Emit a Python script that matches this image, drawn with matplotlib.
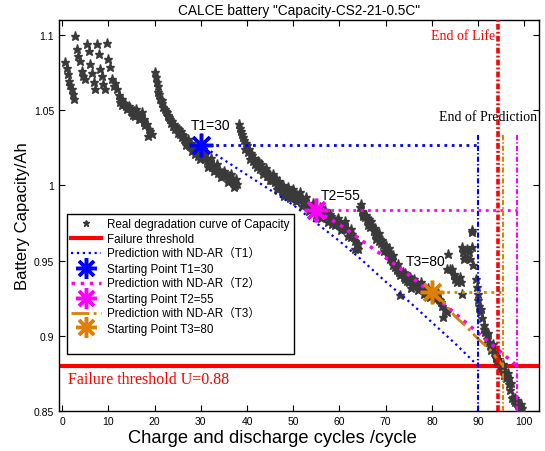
import matplotlib
matplotlib.use("Agg")
import matplotlib.pyplot as plt
from matplotlib.lines import Line2D
from matplotlib.ticker import FuncFormatter, MultipleLocator

# ---------------- data ----------------
seg_a = [(0.65,1.082),(1.0,1.078),(1.15,1.074),(1.4,1.0697),(1.7,1.067),(2.1,1.064),(2.45,1.0576),(2.3,1.061),
         (2.8,1.0996),(3.2,1.0908),(3.5,1.086),(3.9,1.083),(4.3,1.076),(4.6,1.073),(5.0,1.071),(5.3,1.094),
         (5.7,1.0896),(6.1,1.081),(6.4,1.075),(6.8,1.0687),(7.1,1.064),(7.5,1.094),(7.9,1.0875),(8.2,1.0776),
         (8.6,1.073),(8.9,1.0675),(9.3,1.064),(9.7,1.095),(10.0,1.084),(10.4,1.0786),(10.8,1.071),(11.1,1.0664),
         (11.5,1.068),(11.8,1.064),(12.2,1.0598),(12.6,1.0576),(12.9,1.0576),(13.3,1.055),(13.6,1.0543),(14.0,1.051),
         (14.4,1.053),(14.8,1.0498),(15.1,1.0487),(15.5,1.0495),(15.8,1.046),(16.2,1.0487),(16.6,1.044),(16.9,1.0443),
         (17.3,1.0487),(17.6,1.042),(18.0,1.04),(18.3,1.041),(18.7,1.0377),(19.0,1.036),(19.4,1.0343),(18.5,1.0328),
         (12.4,1.0555),(13.0,1.0535),(13.8,1.0525),(14.6,1.0515),(15.3,1.0465),(16.0,1.0505),(17.0,1.0465),(17.8,1.0445)]
seg_b = [(20.1,1.0753),(20.3,1.072),(20.5,1.0687),(20.8,1.062),(21.2,1.0576),(21.5,1.0565),(21.9,1.052),(22.2,1.051),
         (22.6,1.0487),(23.0,1.047),(23.4,1.0443),(23.8,1.043),(24.1,1.041),(24.5,1.0377),(24.9,1.038),(25.2,1.0376),
         (25.5,1.0343),(25.9,1.0343),(26.3,1.031),(26.6,1.03),(27.0,1.0288),(27.4,1.0266),(27.7,1.026),(28.0,1.0232),
         (28.4,1.0244),(28.8,1.021),(29.1,1.0225),(29.5,1.024),(29.9,1.0177),(30.3,1.021),(30.6,1.019),(31.0,1.0177),
         (31.3,1.016),(31.7,1.0155),(32.0,1.0145),(32.4,1.0125),(32.7,1.0133),(33.1,1.011),(33.5,1.0105),(33.8,1.0085),
         (34.2,1.0089),(34.6,1.008),(34.9,1.0062),(35.3,1.0075),(35.6,1.0066),(36.0,1.004),(36.3,1.005),(36.7,1.003),
         (37.1,1.0022),(37.4,1.0005),(37.8,1.001),(21.0,1.061),(22.8,1.046),(24.0,1.0395),(26.0,1.032),(28.0,1.0265),
         (30.0,1.0235),(32.0,1.0165),(34.0,1.0105),(36.0,1.0065),
         (20.7,1.066),(21.7,1.055),(22.4,1.0495),(23.2,1.0455),(23.6,1.0415),(24.3,1.0395),(25.0,1.035),(25.7,1.0365),
         (26.1,1.0335),(26.8,1.027),(27.2,1.031),(27.9,1.0285),(28.6,1.0255),(29.3,1.0195),(29.7,1.0265),(30.8,1.022),
         (31.5,1.0125),(32.2,1.0185),(32.9,1.0095),(33.6,1.014),(34.4,1.0055),(35.1,1.0095),(35.8,1.0025),(36.5,1.0075),
         (37.2,0.999),(37.6,1.004)]
seg_c = [(38.2,1.041),(38.5,1.038),(38.9,1.0343),(39.3,1.03),(39.6,1.0244),(40.0,1.0266),(40.3,1.022),(40.7,1.0177),
         (41.1,1.02),(41.4,1.016),(41.8,1.0145),(42.1,1.0122),(42.5,1.0155),(42.9,1.011),(43.2,1.0125),(43.6,1.0089),
         (44.0,1.009),(44.3,1.0065),(44.7,1.0075),(45.0,1.0066),(45.4,1.0035),(45.7,1.0033),(46.1,1.002),(46.5,0.9978),
         (46.8,1.001),(47.2,0.9985),(47.5,0.9965),(47.9,0.9945),(48.3,0.9975),(48.6,0.9955),(49.0,0.9945),(49.4,0.9956),
         (49.7,0.9925),(50.1,0.994),(50.4,0.9945),(50.8,0.9934),(51.2,0.9905),(51.5,0.992),(51.9,0.9912),(52.2,0.989),
         (52.6,0.9895),(53.0,0.9867),(53.3,0.9875),(53.7,0.985),(54.1,0.9855),(54.4,0.983),(54.8,0.984),(55.2,0.9835),
         (55.5,0.982),(55.9,0.9825),(56.3,0.981),(56.6,0.9805),(57.0,0.979),(57.3,0.9812),(57.7,0.978),(58.0,0.9812),
         (58.4,0.9775),(58.8,0.977),(59.1,0.976),(59.5,0.9768),(59.9,0.974),(60.2,0.975),(60.6,0.9735),(60.9,0.9746),
         (61.3,0.971),(61.7,0.972),(62.0,0.969),(62.4,0.968),(62.7,0.9675),(63.1,0.9657),(63.4,0.958),(63.8,0.962),
         (64.1,0.9613),(40.5,1.024),(42.5,1.0135),(44.5,1.006),(46.5,1.0005),(48.5,0.997),(50.5,0.9915),(52.5,0.9875),
         (54.5,0.9845),(56.5,0.9795),(58.5,0.9745),(60.5,0.971),(62.5,0.966),(64.1,0.958),
         (38.7,1.0365),(39.1,1.0325),(39.8,1.0285),(40.9,1.0215),(41.6,1.0185),(42.3,1.0165),(43.0,1.0145),(43.4,1.0075),
         (44.2,1.0115),(44.9,1.0035),(45.6,1.0075),(46.3,1.005),(47.0,1.003),(47.7,1.0),(48.1,0.993),(48.8,0.999),
         (49.2,0.9915),(50.0,0.9975),(50.6,0.9895),(51.4,0.9955),(52.0,0.9865),(52.8,0.992),(53.5,0.983),(54.3,0.9885),
         (55.0,0.9805),(55.7,0.9855),(56.1,0.9785),(56.9,0.9835),(57.5,0.9755),(58.2,0.98),(59.0,0.9735),(59.7,0.9785),
         (60.4,0.9705),(61.1,0.9765),(61.9,0.9665),(62.6,0.971),(63.3,0.963)]
seg_d = [(64.5,0.9857),(64.8,0.983),(65.2,0.9812),(65.5,0.979),(66.0,0.9768),(66.3,0.9775),(66.7,0.9724),(67.0,0.973),
         (67.4,0.970),(67.7,0.968),(68.1,0.9665),(68.4,0.9655),(68.8,0.9646),(69.1,0.962),(69.5,0.9602),(69.9,0.959),
         (70.3,0.9568),(70.6,0.955),(71.0,0.9513),(71.3,0.9505),(71.7,0.9469),(72.1,0.946),(72.4,0.944),(72.8,0.9425),
         (73.2,0.9405),(73.5,0.941),(73.9,0.9392),(74.3,0.938),(74.6,0.9365),(75.0,0.9358),(75.3,0.9392),(75.7,0.936),
         (76.0,0.9345),(76.4,0.934),(76.8,0.9336),(77.1,0.9336),(77.5,0.932),(77.8,0.9315),(78.2,0.9303),(78.6,0.929),
         (79.0,0.928),(79.3,0.930),(80.0,0.927),(80.4,0.9285),(80.8,0.926),(81.1,0.9255),(81.5,0.9248),(81.8,0.9235),
         (82.2,0.920),(82.5,0.9126),(82.9,0.917),(83.3,0.9159),(73.2,0.927),(66.5,0.975),(68.5,0.963),(70.5,0.9535),
         (72.5,0.9445),(74.5,0.9395),(76.5,0.9355),(78.5,0.9315),
         (64.7,0.9875),(65.0,0.9795),(65.8,0.9805),(66.2,0.9735),(66.9,0.9765),(67.6,0.9715),(67.9,0.9645),(68.6,0.9685),
         (69.3,0.9635),(69.7,0.9565),(70.1,0.9605),(70.8,0.9585),(71.5,0.9535),(71.9,0.9485),(72.6,0.9475),(73.0,0.9445),
         (73.7,0.9425),(74.1,0.9415),(74.8,0.9395),(75.5,0.932),(76.2,0.9375),(77.0,0.9305),(77.6,0.9355),(78.4,0.9275),
         (79.1,0.9315),(79.7,0.9255),(80.6,0.9245),(81.3,0.9285),(82.0,0.9225)]
seg_e = [(83.6,0.9546),(84.0,0.9447),(84.3,0.9447),(84.7,0.9402),(84.9,0.941),(85.4,0.9358),(86.1,0.9392),(86.3,0.9358),
         (86.5,0.9591),(86.7,0.9558),(87.2,0.9524),(87.6,0.958),(88.0,0.9558),(88.3,0.9513),(88.7,0.9591),(88.6,0.969),
         (88.8,0.9701),(89.0,0.9469),(86.5,0.928),(83.2,0.9447),(85.0,0.9375),(87.0,0.951)]
seg_f = [(89.8,0.9325),(90.1,0.9236),(90.5,0.9159),(90.8,0.912),(91.2,0.907),(91.6,0.9027),(91.9,0.9004),(92.3,0.896),
         (92.6,0.8938),(93.0,0.8916),(93.4,0.8894),(93.7,0.8883),(93.8,0.885),(94.1,0.883),(94.4,0.8817),(94.8,0.880),
         (95.2,0.8783),(95.5,0.877),(95.9,0.875),(96.2,0.873),(96.6,0.8717),(96.8,0.868),(97.0,0.8639),(97.3,0.8584),
         (97.7,0.857),(98.0,0.856),(98.4,0.8551),(98.7,0.854),(99.1,0.8529),(99.5,0.8517),(89.5,0.938),(90.3,0.920),
         (92.0,0.898),(94.0,0.886),(95.0,0.8795),(96.0,0.872),(97.5,0.8595),(98.8,0.8535),
         (90.0,0.928),(90.7,0.9175),(91.4,0.9045),(92.1,0.902),(92.8,0.8905),(93.2,0.8945),(93.9,0.8865),(94.6,0.8845),
         (95.3,0.8815),(95.7,0.874),(96.4,0.8755),(97.1,0.8685),(97.9,0.8585),(98.5,0.8575),(99.3,0.8545)]

pred1_x = [30, 35, 40, 45, 50, 55, 60, 65, 70, 75, 80, 85, 90]
pred1_y = [1.027, 1.017, 1.007, 0.997, 0.987, 0.975, 0.963, 0.950, 0.936, 0.923, 0.909, 0.895, 0.880]
pred2_x = [55, 60, 65, 70, 75, 80, 85, 90, 95, 98.4]
pred2_y = [0.983, 0.974, 0.963, 0.952, 0.9405, 0.928, 0.915, 0.902, 0.889, 0.880]
pred3_x = [80, 82.5, 85, 87.5, 90, 92.5, 95.4]
pred3_y = [0.929, 0.9225, 0.913, 0.906, 0.898, 0.891, 0.880]

start_t = [30, 55, 80]
start_cap = [1.027, 0.9834, 0.929]
pred_end = [90, 98.4, 95.4]
start_labels = ["T1=30", "T2=55", "T3=80"]
threshold = 0.88
end_of_life = 94.3
vline_top = 1.034

# ---------------- figure ----------------
plt.rcParams['font.family'] = ['Liberation Sans', 'Noto Sans CJK SC', 'DejaVu Sans']
fig = plt.figure(figsize=(5.45, 4.52), dpi=100)
ax = fig.add_axes([59/545, 1-412/452, 480/545, 391/452])

cols = ['#0000ff', '#ff00ff', '#dd8000']

pts = seg_a + seg_b + seg_c + seg_d + seg_e + seg_f
px = [p[0] for p in pts]
py = [p[1] for p in pts]
ax.plot(px, py, linestyle='none', marker='*', ms=6.5, color='#3a3a3a', mec='#3a3a3a', zorder=3)

# threshold
ax.axhline(threshold, color='#ff0000', lw=3, zorder=2)

# predictions
ax.plot(pred1_x, pred1_y, color=cols[0], ls=':', lw=1.6, zorder=4)
ax.plot(pred2_x, pred2_y, color=cols[1], ls=':', lw=2.5, zorder=4)
ax.plot(pred3_x, pred3_y, color=cols[2], ls='-.', lw=2.0, zorder=4)

# horizontal guides and vertical end lines
dashdot_fine = (0, (2.5, 1.0, 0.7, 1.0))
for t, c, e, col in zip(start_t, start_cap, pred_end, cols):
    ax.plot([t, e], [c, c], color=col, ls=':', lw=2, zorder=4)
    ax.plot([e, e], [0.85, vline_top], color=col, ls=dashdot_fine, lw=1.5, zorder=4)
ax.axvline(end_of_life, color='#ff0000', ls=(0, (1.6, 0.6, 0.5, 0.6)), lw=2.6, zorder=4)

# starting points
for t, c, col in zip(start_t, start_cap, cols):
    ax.plot([t], [c], marker=(8, 2, 0), ms=17, mew=2.5, color=col, mec=col, zorder=5)

# labels
ax.text(32, 1.0405, start_labels[0], fontsize=10, ha='center', va='center', zorder=6)
ax.text(60.3, 0.9935, start_labels[1], fontsize=10, ha='center', va='center', zorder=6)
ax.text(78.6, 0.9500, start_labels[2], fontsize=10, ha='center', va='center', zorder=6)
ax.text(93.7, 1.0996, 'End of Life', fontsize=10, color='#ff0000', family='Liberation Serif',
        ha='right', va='center')
ax.text(102.9, 1.0455, 'End of Prediction', fontsize=10, color='black', family='Liberation Serif',
        ha='right', va='center')
ax.text(1.2, 0.8713, 'Failure threshold U=0.88', fontsize=11.5, color='#ff0000', family='Liberation Serif',
        ha='left', va='center')

ax.set_xlim(-0.7, 103.2)
ax.set_ylim(0.85, 1.11)
ax.xaxis.set_major_locator(MultipleLocator(10))
ax.yaxis.set_major_locator(MultipleLocator(0.05))
ax.yaxis.set_major_formatter(FuncFormatter(lambda v, p: '%g' % round(v, 4)))
ax.tick_params(direction='in', top=True, right=True, length=4, labelsize=7.5, width=0.8)
for s in ax.spines.values():
    s.set_linewidth(1.0)

ax.set_xlabel('Charge and discharge cycles /cycle', fontsize=13.2, labelpad=1)
ax.xaxis.set_label_coords((272 - 59) / 480, -0.045)
ax.set_ylabel('Battery Capacity/Ah', fontsize=12, labelpad=3)
ax.set_title('CALCE battery "Capacity-CS2-21-0.5C"', fontsize=9.8, pad=4)

handles = [
    Line2D([], [], ls='none', marker='*', ms=5, color='#3a3a3a'),
    Line2D([], [], color='#ff0000', lw=3),
    Line2D([], [], color=cols[0], ls=':', lw=1.6),
    Line2D([], [], ls='none', marker=(8, 2, 0), ms=15, mew=2.5, color=cols[0]),
    Line2D([], [], color=cols[1], ls=':', lw=2.5),
    Line2D([], [], ls='none', marker=(8, 2, 0), ms=15, mew=2.5, color=cols[1]),
    Line2D([], [], color=cols[2], ls='-.', lw=2.0),
    Line2D([], [], ls='none', marker=(8, 2, 0), ms=15, mew=2.5, color=cols[2]),
    Line2D([], [], ls='none', color='white'),
]
labels = ['Real degradation curve of Capacity', 'Failure threshold',
          'Prediction with ND-AR（T1）', 'Starting Point T1=30',
          'Prediction with ND-AR（T2）', 'Starting Point T2=55',
          'Prediction with ND-AR（T3）', 'Starting Point T3=80', ' ']
leg = ax.legend(handles, labels, loc='upper left', bbox_to_anchor=(7.7/480, (412-215)/391),
                fontsize=8.4, frameon=True, fancybox=False, edgecolor='black', framealpha=1,
                labelspacing=0.25, handlelength=2.6, handletextpad=0.5, borderpad=0.35,
                borderaxespad=0)
leg.get_frame().set_linewidth(1.0)

fig.savefig('out.png', dpi=100)
